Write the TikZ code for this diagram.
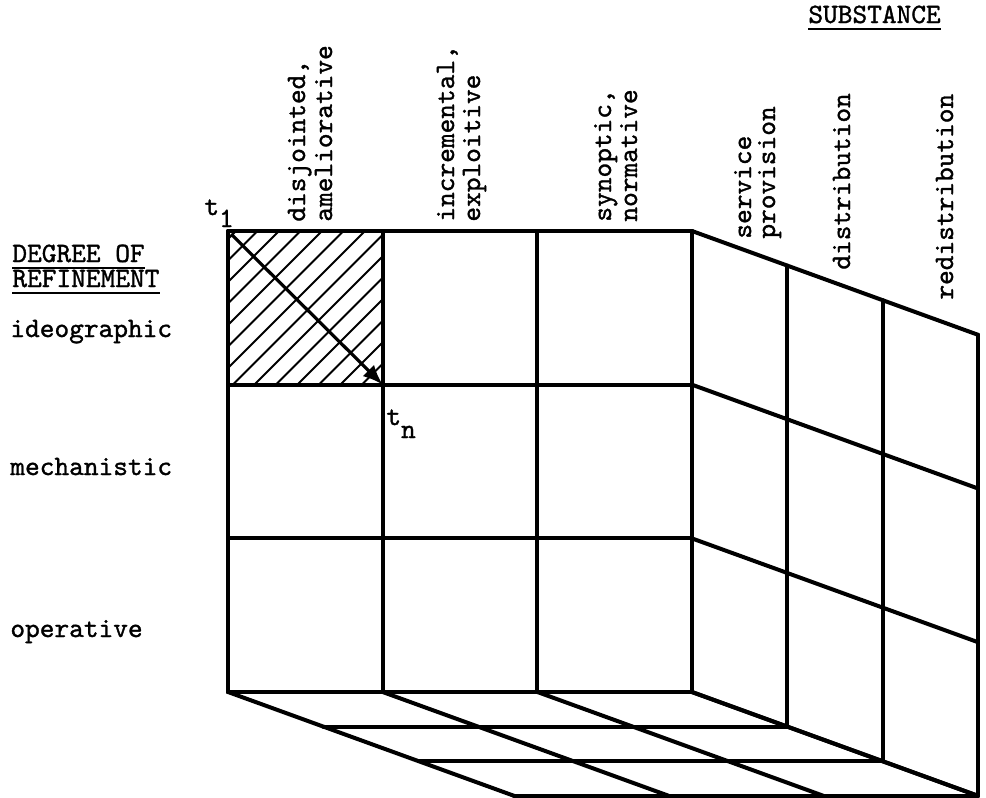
\documentclass[tikz,border=0pt]{standalone}
\usepackage{fontspec}
\newfontfamily\typew{lmmono10-regular.otf}[FakeBold=1.2]
\usepackage{tikz}
\usetikzlibrary{arrows.meta}

\begin{document}
\begin{tikzpicture}[
    x=0.5pt, y=-0.5pt,
    cube/.style={line width=2pt, line join=round, line cap=round},
    hatch/.style={line width=0.9pt},
    lbl/.style={font=\fontsize{14}{16}\selectfont\typew, inner sep=0pt, anchor=base west},
    vlbl/.style={lbl, rotate=90},
    underbar/.style={line width=1.3pt},
    flow/.style={-{Latex[length=10pt, width=8pt]}, line width=1.6pt}
]
    \useasboundingbox (0,0) rectangle (986,798);

    % cube corners
    \coordinate (tl) at (228,231);
    \coordinate (c11) at (382.7,384.7);

    % hatched cell
    \begin{scope}
        \clip (tl) rectangle (c11);
        \foreach \c in {0,...,14}
            \draw[hatch] (236+\c*21.5, 231) -- ++(-170,170);
    \end{scope}

    % front face
    \foreach \i in {0,...,3} {
        \draw[cube] (228+\i*154.7, 231) -- (228+\i*154.7, 692);
        \draw[cube] (228, 231+\i*153.7) -- (692, 231+\i*153.7);
    }
    % right face
    \foreach \i in {0,...,3} {
        \draw[cube] (692+\i*95.3, 231+\i*34.6) -- ++(0,461);
        \draw[cube] (692, 231+\i*153.7) -- ++(286,103.8);
    }
    % bottom face
    \foreach \i in {0,...,3} {
        \draw[cube] (228+\i*154.7, 692) -- ++(286,103.8);
        \draw[cube] (228+\i*95.3, 692+\i*34.6) -- ++(464,0);
    }

    % time arrow
    \draw[flow] ([shift={(3,3)}]tl) -- (c11);
    \node[lbl] (t1) at (204,215) {t\raisebox{-6pt}{1}};
    \node[lbl] (tn) at (386,425) {t\raisebox{-6.5pt}{n}};

    % degree of refinement
    \node[lbl] (degree) at (12,262) {DEGREE OF};
    \node[lbl] (refinement) at (12,287) {REFINEMENT};
    \draw[underbar] ([yshift=-3pt]degree.base west) -- ([yshift=-3pt]degree.base east);
    \draw[underbar] ([yshift=-3pt]refinement.base west) -- ([yshift=-3pt]refinement.base east);
    \node[lbl] (ideo) at (10,337) {ideographic};
    \node[lbl] (mech) at (10,475) {mechanistic};
    \node[lbl] (oper) at (10,637) {operative};

    % substance
    \node[lbl] (substance) at (808,23) {SUBSTANCE};
    \draw[underbar] ([yshift=-3pt]substance.base west) -- ([yshift=-3pt]substance.base east);
    \node[vlbl] (disj) at (305,222) {disjointed,};
    \node[vlbl] (amel) at (332,222) {ameliorative};
    \node[vlbl] (incr) at (454,222) {incremental,};
    \node[vlbl] (expl) at (480,222) {exploitive};
    \node[vlbl] (syno) at (611,222) {synoptic,};
    \node[vlbl] (norm) at (637,222) {normative};
    \node[vlbl] (serv) at (751,239) {service};
    \node[vlbl] (prov) at (775,239) {provision};
    \node[vlbl] (dist) at (850,270) {distribution};
    \node[vlbl] (redi) at (953,300) {redistribution};
\end{tikzpicture}
\end{document}
